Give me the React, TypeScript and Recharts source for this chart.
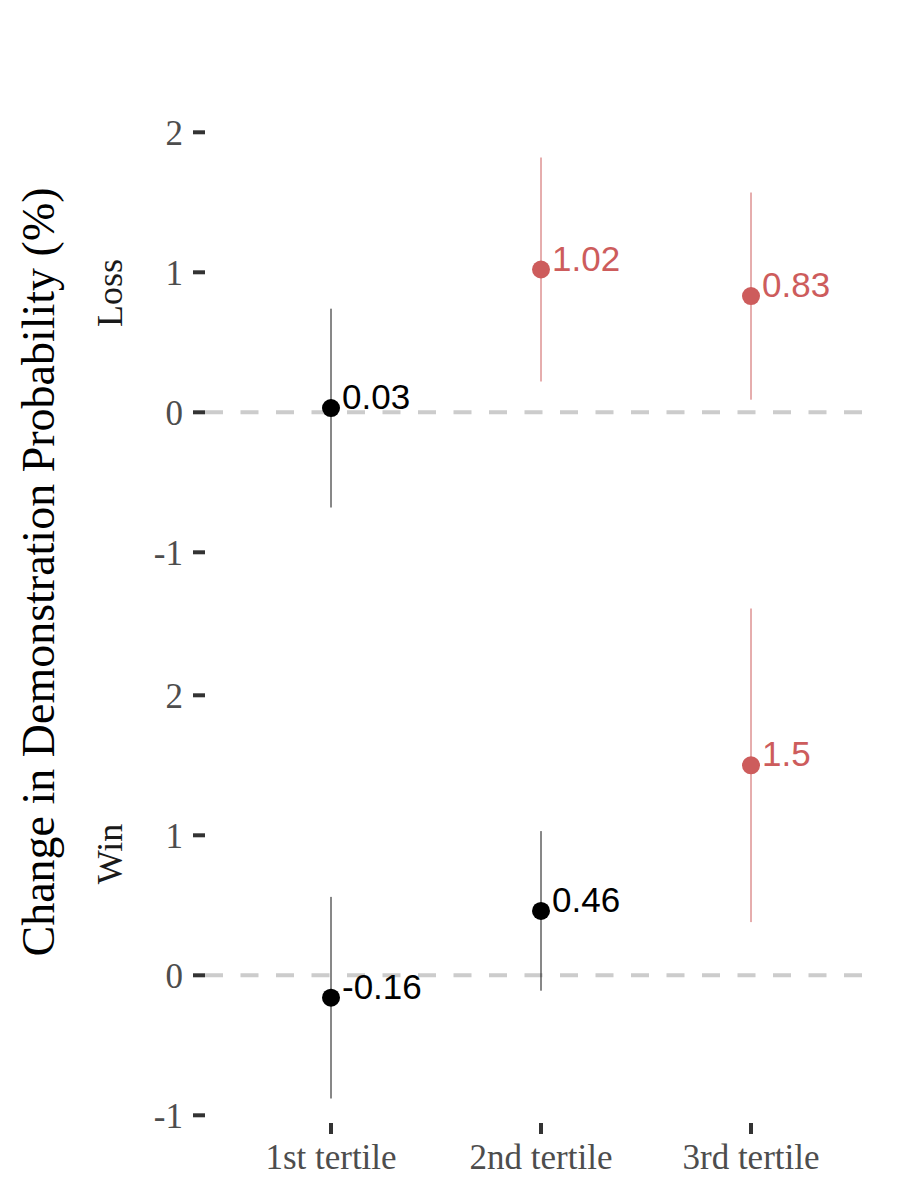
import React from 'react'
import {
  ScatterChart,
  Scatter,
  XAxis,
  YAxis,
  ErrorBar,
  ReferenceLine,
} from 'recharts'

const tertiles = ['1st tertile', '2nd tertile', '3rd tertile']

// Loss panel: estimate and 95% interval
const lossEst = [0.03, 1.02, 0.83]
const lossLow = [-0.68, 0.22, 0.09]
const lossHigh = [0.74, 1.82, 1.57]

// Win panel
const winEst = [-0.16, 0.46, 1.5]
const winLow = [-0.88, -0.11, 0.38]
const winHigh = [0.56, 1.03, 2.62]

const yTicks = [-1, 0, 1, 2]

const RED = '#CD5C5C'
const BLACK = '#000000'
const SERIF = '"Liberation Serif", "Times New Roman", serif'
const SANS = '"Liberation Sans", Arial, sans-serif'

const buildRows = (est: number[], low: number[], high: number[]) =>
  est.map((v, i) => ({
    x: i + 1,
    y: v,
    err: [v - low[i], high[i] - v],
    label: String(v),
    sig: low[i] > 0 || high[i] < 0,
  }))

const makeDot = (color: string) => (props: any) => {
  const { cx, cy, payload } = props
  return (
    <g>
      <circle cx={cx} cy={cy} r={9} fill={color} />
      <text
        x={cx + 11}
        y={cy + 1}
        fill={color}
        fontFamily={SANS}
        fontSize={35}
        textAnchor="start"
      >
        {payload.label}
      </text>
    </g>
  )
}

const tickStyle = { fill: '#4d4d4d', fontSize: 35, fontFamily: SERIF }
const tickLineStyle = { stroke: '#333333', strokeWidth: 4 }

function Panel({
  rows,
  height,
  margin,
  showX,
}: {
  rows: any[]
  height: number
  margin: any
  showX: boolean
}) {
  const plain = rows.filter(r => !r.sig)
  const sig = rows.filter(r => r.sig)
  return (
    <ScatterChart width={900} height={height} margin={margin}>
      <XAxis
        type="number"
        dataKey="x"
        domain={[0.4, 3.6]}
        ticks={[1, 2, 3]}
        interval={0}
        tickFormatter={(v: number) => tertiles[v - 1]}
        hide={!showX}
        height={60}
        axisLine={false}
        tickSize={11}
        tickMargin={10}
        tick={tickStyle}
        tickLine={tickLineStyle}
        allowDataOverflow
      />
      <YAxis
        type="number"
        dataKey="y"
        domain={[-1.055, 2.795]}
        ticks={yTicks}
        interval={0}
        width={205}
        axisLine={false}
        tickSize={12}
        tickMargin={10}
        tick={tickStyle}
        tickLine={tickLineStyle}
        allowDataOverflow
      />
      <ReferenceLine
        y={0}
        stroke="#cccccc"
        strokeWidth={4}
        strokeDasharray="18 17.5"
      />
      <Scatter data={plain} shape={makeDot(BLACK)} isAnimationActive={false}>
        <ErrorBar
          dataKey="err"
          direction="y"
          width={0}
          stroke="#111111"
          strokeWidth={1}
          isAnimationActive={false}
        />
      </Scatter>
      <Scatter data={sig} shape={makeDot(RED)} isAnimationActive={false}>
        <ErrorBar
          dataKey="err"
          direction="y"
          width={0}
          stroke={RED}
          strokeWidth={1}
          isAnimationActive={false}
        />
      </Scatter>
    </ScatterChart>
  )
}

export default function App() {
  const lossRows = buildRows(lossEst, lossLow, lossHigh)
  const winRows = buildRows(winEst, winLow, winHigh)

  return (
    <div
      style={{
        position: 'absolute',
        left: 0,
        top: 0,
        width: 900,
        height: 1200,
        background: '#ffffff',
      }}
    >
      <div style={{ position: 'absolute', left: 0, top: 0 }}>
        <Panel
          rows={lossRows}
          height={580}
          margin={{ top: 21, right: 23, bottom: 20, left: 0 }}
          showX={false}
        />
      </div>
      <div style={{ position: 'absolute', left: 0, top: 562 }}>
        <Panel
          rows={winRows}
          height={638}
          margin={{ top: 22, right: 23, bottom: 17, left: 0 }}
          showX={true}
        />
      </div>
      <svg
        width={900}
        height={1200}
        style={{ position: 'absolute', left: 0, top: 0, pointerEvents: 'none' }}
      >
        <text
          transform="rotate(-90)"
          x={-572}
          y={54}
          textAnchor="middle"
          fontFamily={SERIF}
          fontSize={46}
          fill="#000000"
        >
          Change in Demonstration Probability (%)
        </text>
        <text
          transform="rotate(-90)"
          x={-293}
          y={122}
          textAnchor="middle"
          fontFamily={SERIF}
          fontSize={36}
          fill="#1a1a1a"
        >
          Loss
        </text>
        <text
          transform="rotate(-90)"
          x={-854}
          y={122}
          textAnchor="middle"
          fontFamily={SERIF}
          fontSize={36}
          fill="#1a1a1a"
        >
          Win
        </text>
      </svg>
    </div>
  )
}
